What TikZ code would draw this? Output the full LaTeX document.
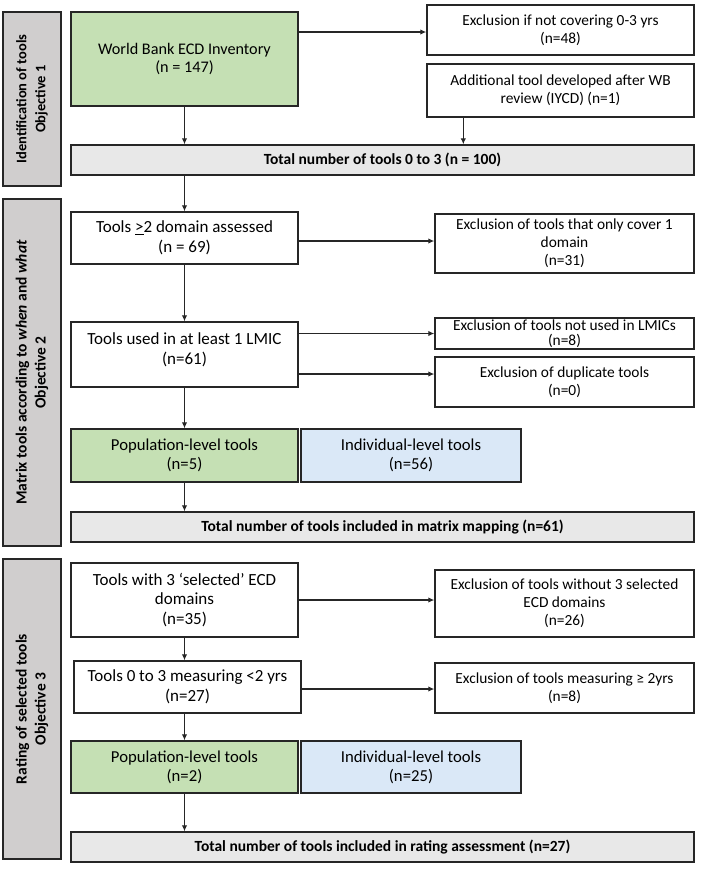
\documentclass[tikz,border=0pt]{standalone}
\usepackage{fontspec}
\setmainfont{Carlito}
\usetikzlibrary{arrows.meta,calc}
\definecolor{boxgreen}{HTML}{C5E0B4}
\definecolor{boxblue}{HTML}{DAE8F7}
\definecolor{totgrey}{HTML}{E8E8E8}
\definecolor{sidegrey}{HTML}{D0CECE}
\definecolor{linec}{HTML}{262626}
\begin{document}
\begin{tikzpicture}[x=1pt,y=-1pt,
  box/.style={draw=linec, line width=1.4pt, align=center, inner sep=1pt,
    font=\fontsize{17}{19.5}\selectfont},
  exbox/.style={box, font=\fontsize{15.4}{18}\selectfont},
  sz/.style 2 args={minimum width=#1, minimum height=#2},
  greenbox/.style={box, fill=boxgreen, font=\fontsize{16.7}{19}\selectfont},
  bluebox/.style={box, fill=boxblue, font=\fontsize{16.7}{19}\selectfont},
  totbox/.style={box, fill=totgrey, font=\fontsize{15.5}{18}\bfseries\selectfont},
  sidebox/.style={box, fill=sidegrey, rotate=90, font=\fontsize{15.5}{19}\bfseries\selectfont},
  arr/.style={draw=linec, line width=1.3pt, -{Latex[length=6pt,width=5.5pt]}}
]
\useasboundingbox (0,0) rectangle (708,871);
\fill[white] (0,0) rectangle (708,871);

% side boxes
\node[sidebox, sz={174pt}{58pt}, font=\fontsize{14.5}{19}\bfseries\selectfont] (s1) at (32,99) {Identification of tools\\Objective 1};
\node[sidebox, sz={347pt}{58pt}] (s2) at (32,372.5) {Matrix tools according to \emph{when} and \emph{what}\\Objective 2};
\node[sidebox, sz={300pt}{58pt}] (s3) at (32,709) {Rating of selected tools\\Objective 3};

% objective 1
\node[greenbox, sz={227pt}{94pt}, font=\fontsize{16.2}{18}\selectfont] (wb) at (184.5,59) {World Bank ECD Inventory\\(n = 147)};
\node[exbox, sz={267pt}{50pt}] (ex03) at (560.5,30) {Exclusion if not covering 0-3 yrs\\(n=48)};
\node[exbox, sz={267pt}{53pt}] (add) at (560.5,90.5) {Additional tool developed after WB\\review (IYCD) (n=1)};
\node[totbox, sz={623pt}{30pt}] (tot1) at (382.5,160) {Total number of tools 0 to 3 (n = 100)};

% objective 2
\node[box, sz={227pt}{52pt}] (dom2) at (184.5,238) {Tools \underline{>}2 domain assessed\\(n = 69)};
\node[exbox, sz={259pt}{59pt}] (ex1d) at (564.5,243.5) {Exclusion of tools that only cover 1\\domain\\(n=31)};
\node[box, sz={227pt}{65pt}, text depth=12pt] (lmic) at (184.5,354.5) {Tools used in at least 1 LMIC\\(n=61)};
\node[exbox, sz={259pt}{31pt}, font=\fontsize{15.4}{14.5}\selectfont] (exlmic) at (564.5,333.5) {Exclusion of tools not used in LMICs\\(n=8)};
\node[exbox, sz={259pt}{50pt}] (exdup) at (564.5,382) {Exclusion of duplicate tools\\(n=0)};
\node[greenbox, sz={227pt}{53pt}] (pop1) at (184.5,455.5) {Population-level tools\\(n=5)};
\node[bluebox, sz={220pt}{53pt}] (ind1) at (411,455.5) {Individual-level tools\\(n=56)};
\node[totbox, sz={623pt}{30pt}] (tot2) at (382.5,527) {Total number of tools included in matrix mapping (n=61)};

% objective 3
\node[box, sz={227pt}{74pt}] (t3) at (184.5,600) {Tools with 3 ‘selected’ ECD\\domains\\(n=35)};
\node[exbox, sz={259pt}{67pt}] (exsel) at (564.5,603.5) {Exclusion of tools without 3 selected\\ECD domains\\(n=26)};
\node[box, sz={227pt}{52pt}] (m03) at (187.5,687) {Tools 0 to 3 measuring <2 yrs\\(n=27)};
\node[exbox, sz={259pt}{50pt}] (ex2) at (564.5,688) {Exclusion of tools measuring ≥ 2yrs\\(n=8)};
\node[greenbox, sz={227pt}{52pt}] (pop2) at (184.5,767) {Population-level tools\\(n=2)};
\node[bluebox, sz={220pt}{52pt}] (ind2) at (411,767) {Individual-level tools\\(n=25)};
\node[totbox, sz={623pt}{30pt}] (tot3) at (382.5,847) {Total number of tools included in rating assessment (n=27)};

% connectors
\draw[arr] (wb.east |- 0,32) -- (ex03.west |- 0,32);
\coordinate (addx) at ($(add.south west)+(37,0)$);
\draw[arr] (addx) -- (addx |- tot1.north);
\draw[arr] (wb.south) -- (wb.south |- tot1.north);
\draw[arr] (wb.south |- tot1.south) -- (dom2.north);
\draw[arr] (dom2.east |- 0,241) -- (ex1d.west |- 0,241);
\draw[arr] (dom2.south) -- (lmic.north);
\draw[arr] (lmic.east |- exlmic.west) -- (exlmic.west);
\draw[arr] (lmic.east |- 0,374) -- (exdup.west |- 0,374);
\draw[arr] (lmic.south) -- (pop1.north);
\draw[arr] (pop1.south) -- (pop1.south |- tot2.north);
\draw[arr] (t3.east) -- (t3.east -| exsel.west);
\draw[arr] (t3.south) -- (t3.south |- m03.north);
\draw[arr] (m03.east |- 0,689) -- (ex2.west |- 0,689);
\draw[arr] (m03.south -| pop2.north) -- (pop2.north);
\draw[arr] (pop2.south) -- (pop2.south |- tot3.north);
\end{tikzpicture}
\end{document}
